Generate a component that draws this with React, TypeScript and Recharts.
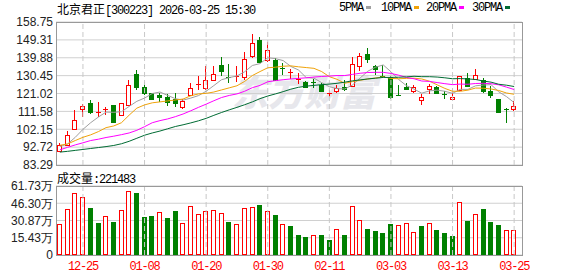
import { ComposedChart, Bar, Line, XAxis, YAxis, CartesianGrid, ReferenceLine } from 'recharts';

const dates = [
  '12-22', '12-23', '12-24', '12-25', '12-26', '12-29', '12-30', '12-31', '01-05', '01-06',
  '01-07', '01-08', '01-09', '01-12', '01-13', '01-14', '01-15', '01-16', '01-19', '01-20',
  '01-21', '01-22', '01-23', '01-26', '01-27', '01-28', '01-29', '01-30', '02-02', '02-03',
  '02-04', '02-05', '02-06', '02-09', '02-10', '02-11', '02-12', '02-13', '02-24', '02-25',
  '02-26', '02-27', '03-02', '03-03', '03-04', '03-05', '03-06', '03-09', '03-10', '03-11',
  '03-12', '03-13', '03-16', '03-17', '03-18', '03-19', '03-20', '03-23', '03-24', '03-25',
];
const tickDates = ['12-25', '01-08', '01-20', '01-30', '02-11', '03-03', '03-13', '03-25'];

const opens = [
  90.93, 93.73, 102.14, 112.66, 115.81, 110.7, 112.13, 114.76, 109.5, 114.76,
  131.23, 124.57, 121.07, 120.02, 118.97, 118.27, 113.71, 120.37, 125.28, 124.05,
  128.08, 136.14, 129.83, 129.48, 129.48, 140.7, 149.11, 138.95, 138.6, 134.56,
  131.94, 127.9, 127.03, 127.03, 125.28, 120.72, 122.47, 124.3, 124.93, 135.79,
  142.1, 135.79, 130.18, 129.48, 120.37, 124.22, 122.12, 117.57, 123.17, 124.22,
  120.9, 118.27, 122.82, 129.13, 128.78, 128.08, 122.47, 118.09, 112.83, 112.66,
];
const closes = [
  93.73, 98.99, 107.05, 114.24, 111.26, 111.0, 112.66, 106.17, 115.81, 125.28,
  124.57, 121.42, 118.27, 119.32, 116.51, 116.16, 117.21, 123.72, 125.8, 127.9,
  131.23, 132.99, 128.96, 130.18, 139.3, 147.71, 137.9, 144.2, 128.08, 133.86,
  132.29, 128.78, 124.22, 126.33, 122.47, 121.07, 123.72, 123.6, 136.84, 140.7,
  139.3, 134.04, 129.66, 118.97, 119.84, 123.52, 124.57, 119.32, 124.93, 121.42,
  120.55, 119.14, 130.18, 124.93, 130.53, 122.47, 120.37, 111.26, 112.31, 114.41,
];
const highs = [
  95.13, 101.27, 112.31, 115.64, 117.57, 116.51, 114.06, 114.9, 116.0, 128.08,
  133.34, 127.03, 121.4, 121.07, 120.72, 121.07, 118.27, 126.68, 130.18, 135.44,
  135.44, 140.35, 136.49, 135.44, 142.8, 152.62, 150.86, 148.41, 139.5, 137.19,
  133.69, 131.59, 127.4, 128.43, 126.33, 122.82, 125.28, 128.0, 140.35, 142.45,
  144.9, 136.0, 136.14, 130.18, 125.28, 126.68, 125.28, 120.72, 125.98, 124.93,
  122.47, 123.88, 130.3, 131.94, 134.04, 129.13, 124.93, 118.2, 113.36, 116.86,
];
const lows = [
  90.58, 93.38, 101.79, 108.8, 110.38, 108.45, 109.68, 106.0, 109.3, 114.5,
  122.82, 120.37, 117.57, 116.69, 114.41, 114.06, 113.01, 120.02, 122.82, 122.82,
  127.38, 130.18, 126.33, 127.2, 128.08, 140.0, 137.19, 137.9, 127.73, 130.88,
  128.78, 125.98, 123.9, 123.88, 121.77, 119.32, 121.42, 122.47, 124.57, 133.0,
  137.19, 130.53, 129.13, 118.27, 119.67, 122.82, 121.42, 115.11, 120.72, 120.72,
  118.27, 117.57, 122.47, 124.22, 128.08, 121.07, 118.62, 110.91, 105.65, 111.96,
];
// 成交量, 万手
const vols = [
  27.4, 41.0, 55.4, 51.8, 42.2, 28.6, 34.6, 29.5, 40.1, 57.2,
  55.7, 34.0, 34.9, 38.3, 33.1, 39.5, 28.3, 43.7, 36.4, 39.2,
  40.1, 37.3, 29.5, 27.4, 41.9, 42.8, 44.9, 39.2, 35.8, 27.4,
  25.9, 17.8, 16.0, 17.5, 17.8, 13.3, 22.9, 17.8, 43.7, 31.0,
  23.2, 21.4, 19.6, 27.7, 26.5, 28.3, 20.2, 25.9, 28.3, 22.3,
  19.6, 16.9, 47.3, 30.4, 36.4, 41.3, 29.5, 26.8, 22.0, 22.15,
];
const ma5 = [
  93.0, 94.4, 97.9, 102.1, 105.6, 108.6, 111.2, 111.1, 111.4, 114.2,
  116.9, 118.6, 121.0, 121.8, 120.0, 118.3, 117.5, 118.6, 119.9, 122.2,
  125.2, 128.3, 129.4, 130.3, 132.5, 135.8, 136.8, 139.9, 139.4, 138.4,
  135.3, 133.4, 129.4, 129.1, 126.8, 124.6, 123.6, 123.4, 125.5, 129.2,
  132.8, 134.9, 136.1, 132.5, 128.4, 125.2, 123.3, 121.2, 122.4, 122.8,
  122.2, 121.1, 123.2, 123.2, 125.1, 125.5, 125.7, 121.9, 119.4, 116.2,
];
const ma10 = [
  93.7, 94.4, 96.2, 97.9, 99.2, 100.9, 103.0, 103.9, 105.6, 109.6,
  113.3, 115.0, 116.1, 116.6, 117.1, 117.6, 118.1, 119.8, 120.8, 121.1,
  121.8, 122.9, 124.0, 125.1, 127.4, 130.5, 132.6, 134.6, 134.9, 135.4,
  135.6, 135.1, 134.7, 134.3, 132.6, 129.9, 128.5, 126.4, 127.3, 128.0,
  128.7, 129.2, 129.8, 129.0, 128.8, 129.0, 129.1, 128.7, 127.5, 125.6,
  123.7, 122.2, 122.2, 122.8, 123.9, 123.8, 123.4, 122.6, 121.3, 120.6,
];
const ma20 = [
  91.3, 92.6, 93.9, 95.0, 96.2, 96.9, 97.8, 98.5, 99.3, 100.2,
  101.6, 103.5, 105.6, 106.7, 107.6, 108.8, 110.2, 111.9, 113.7, 115.4,
  117.2, 118.9, 120.0, 120.8, 122.2, 124.1, 125.3, 127.2, 127.8, 128.3,
  128.7, 129.0, 129.3, 129.7, 130.0, 130.2, 130.5, 130.5, 131.1, 131.7,
  132.1, 132.2, 132.2, 131.6, 130.7, 129.5, 128.8, 127.6, 127.4, 126.8,
  126.2, 125.7, 126.0, 125.9, 126.3, 126.4, 126.2, 125.6, 124.4, 123.1,
];
const ma30 = [
  90.1, 90.5, 91.0, 91.5, 92.0, 92.5, 93.0, 93.6, 94.5, 95.8,
  97.4, 99.0, 100.2, 101.2, 102.4, 103.6, 104.5, 105.5, 106.6, 107.9,
  109.5, 111.0, 112.4, 113.7, 115.1, 116.6, 118.3, 119.7, 120.8, 122.0,
  123.3, 124.3, 124.9, 125.3, 125.7, 126.0, 126.4, 127.0, 127.7, 128.2,
  128.7, 129.1, 129.5, 129.5, 129.6, 129.8, 130.1, 129.9, 129.9, 129.7,
  129.3, 128.8, 128.9, 128.7, 128.4, 127.6, 127.0, 125.9, 125.4, 124.7,
];

const priceTicks = [83.29, 92.72, 102.15, 111.58, 121.02, 130.45, 139.88, 149.31, 158.75];
const volTicks = [0, 15.43, 30.87, 46.3, 61.73];

const RED = '#ff0000';
const GREEN = '#008000';
const MA_COLORS = { ma5: '#a0a0a0', ma10: '#f0a30a', ma20: '#ff00ff', ma30: '#006b33' };
const CJK = '"Noto Sans CJK SC", sans-serif';
const MONO = '"Liberation Mono", monospace';
const SANS = '"Liberation Sans", Arial, sans-serif';

const rows = dates.map((d, i) => ({
  date: d,
  range: [lows[i], highs[i]],
  open: opens[i],
  close: closes[i],
  high: highs[i],
  low: lows[i],
  vol: vols[i],
  volUp: i === 0 ? closes[i] >= opens[i] : closes[i] >= closes[i - 1],
  ma5: ma5[i],
  ma10: ma10[i],
  ma20: ma20[i],
  ma30: ma30[i],
}));

function Candle(props: any) {
  const { x, y, width, height, payload } = props;
  const { open, close, high, low } = payload;
  const span = high - low || 1;
  const py = (v: number) => y + ((high - v) / span) * Math.abs(height);
  const left = Math.round(x + width / 2 - 2.5);
  const cx = left + 2.5;
  const up = close >= open;
  const color = up ? RED : GREEN;
  const top = Math.round(py(Math.max(open, close)));
  const bot = Math.round(py(Math.min(open, close)));
  const yH = Math.round(py(high));
  const yL = Math.round(py(low));

  if (bot - top < 2) {
    return (
      <g>
        <line x1={cx} x2={cx} y1={yH} y2={yL} stroke={color} />
        <line x1={left} x2={left + 5} y1={top + 0.5} y2={top + 0.5} stroke={color} />
      </g>
    );
  }
  if (up) {
    return (
      <g>
        <line x1={cx} x2={cx} y1={yH} y2={top} stroke={color} />
        <line x1={cx} x2={cx} y1={bot} y2={yL} stroke={color} />
        <rect x={left + 0.5} y={top + 0.5} width={4} height={bot - top} fill="#fff" stroke={color} />
      </g>
    );
  }
  return (
    <g>
      <line x1={cx} x2={cx} y1={yH} y2={yL} stroke={color} />
      <rect x={left} y={top} width={5} height={bot - top + 1} fill={color} />
    </g>
  );
}

function VolBar(props: any) {
  const { x, y, width, height, payload } = props;
  const left = Math.round(x + width / 2 - 2.5);
  const top = Math.round(y);
  const bottom = Math.round(y + height);
  if (payload.volUp) {
    return <rect x={left + 0.5} y={top + 0.5} width={4} height={bottom - top - 1} fill="#fff" stroke={RED} />;
  }
  return <rect x={left} y={top} width={5} height={bottom - top} fill={GREEN} />;
}

const legend = [
  { key: 'ma5', label: '5PMA', left: 339 },
  { key: 'ma10', label: '10PMA', left: 381 },
  { key: 'ma20', label: '20PMA', left: 426 },
  { key: 'ma30', label: '30PMA', left: 472 },
] as const;

const box = (left: number, top: number, w: number, h: number) => ({
  position: 'absolute' as const, left, top, width: w, height: h,
  border: '1px solid #999', boxSizing: 'border-box' as const, pointerEvents: 'none' as const,
});

export default function App() {
  return (
    <div style={{ position: 'absolute', left: 0, top: 0, width: 578, height: 276, background: '#fff', overflow: 'hidden' }}>
      {/* watermark */}
      <div style={{
        position: 'absolute', left: 232, top: 72, fontFamily: CJK, fontSize: 36, lineHeight: '36px',
        fontWeight: 900, color: '#e7e7ec', fontStyle: 'italic', whiteSpace: 'nowrap',
      }}>
        东方财富
      </div>

      {/* header */}
      <div style={{ position: 'absolute', left: 57, top: 2, fontSize: 12, lineHeight: '13px', color: '#000', whiteSpace: 'nowrap' }}>
        <span style={{ fontFamily: CJK }}>北京君正</span>
        <span style={{ fontFamily: MONO, letterSpacing: -1.2 }}>[300223] 2026-03-25 15:30</span>
      </div>
      {legend.map(l => (
        <div key={l.key} style={{ position: 'absolute', left: l.left, top: 2, fontFamily: MONO, fontSize: 12, lineHeight: '13px', letterSpacing: -1.2, whiteSpace: 'nowrap' }}>
          {l.label}
          <span style={{ display: 'inline-block', width: 5, height: 3, marginLeft: 3, verticalAlign: 'middle', background: MA_COLORS[l.key] }} />
        </div>
      ))}

      {/* price pane */}
      <div style={{ position: 'absolute', left: 0, top: 0 }}>
        <ComposedChart width={578} height={180} data={rows} margin={{ top: 22, right: 56, bottom: 15, left: 0 }}>
          <CartesianGrid vertical={false} stroke="#d0d0d0" />
          <XAxis dataKey="date" hide padding={{ left: 0, right: 4 }} />
          <YAxis
            domain={[83.29, 158.75]}
            ticks={priceTicks}
            interval={0}
            allowDataOverflow
            width={56}
            axisLine={false}
            tickLine={false}
            tickSize={0}
            tickMargin={3}
            tick={{ fill: '#222', fontSize: 12, fontFamily: SANS }}
          />
          {tickDates.map(d => (
            <ReferenceLine key={d} x={d} stroke="#c8c8c8" strokeDasharray="5 3" />
          ))}
          <Bar dataKey="range" barSize={5} shape={Candle} isAnimationActive={false} />
          <Line dataKey="ma5" stroke={MA_COLORS.ma5} dot={false} strokeWidth={1} type="linear" isAnimationActive={false} />
          <Line dataKey="ma10" stroke={MA_COLORS.ma10} dot={false} strokeWidth={1} type="linear" isAnimationActive={false} />
          <Line dataKey="ma20" stroke={MA_COLORS.ma20} dot={false} strokeWidth={1} type="linear" isAnimationActive={false} />
          <Line dataKey="ma30" stroke={MA_COLORS.ma30} dot={false} strokeWidth={1} type="linear" isAnimationActive={false} />
        </ComposedChart>
      </div>
      <div style={box(56, 22, 467, 144)} />

      {/* volume caption */}
      <div style={{ position: 'absolute', left: 57, top: 171, fontSize: 12, lineHeight: '13px', whiteSpace: 'nowrap' }}>
        <span style={{ fontFamily: CJK }}>成交量</span>
        <span style={{ fontFamily: MONO, letterSpacing: -1.2 }}>:221483</span>
      </div>

      {/* volume pane */}
      <div style={{ position: 'absolute', left: 0, top: 176 }}>
        <ComposedChart width={578} height={100} data={rows} margin={{ top: 10, right: 56, bottom: 0, left: 0 }}>
          <CartesianGrid vertical={false} stroke="#d0d0d0" />
          <XAxis
            dataKey="date"
            ticks={tickDates}
            interval={0}
            height={21}
            padding={{ left: 0, right: 4 }}
            axisLine={false}
            tickLine={false}
            tickSize={0}
            tickMargin={6}
            tick={{ fill: RED, fontSize: 12, fontFamily: MONO, letterSpacing: -1.2 }}
          />
          <YAxis
            domain={[0, 61.73]}
            ticks={volTicks}
            interval={0}
            allowDataOverflow
            width={56}
            axisLine={false}
            tickLine={false}
            tickSize={0}
            tickMargin={3}
            tickFormatter={(v: number) => (v === 0 ? '0' : `${v.toFixed(2)}万`)}
            tick={{ fill: '#222', fontSize: 12, fontFamily: SANS }}
          />
          {tickDates.map(d => (
            <ReferenceLine key={d} x={d} stroke="#c8c8c8" strokeDasharray="5 3" />
          ))}
          <Bar dataKey="vol" barSize={5} shape={VolBar} isAnimationActive={false} />
        </ComposedChart>
      </div>
      <div style={box(56, 186, 467, 70)} />
    </div>
  );
}
